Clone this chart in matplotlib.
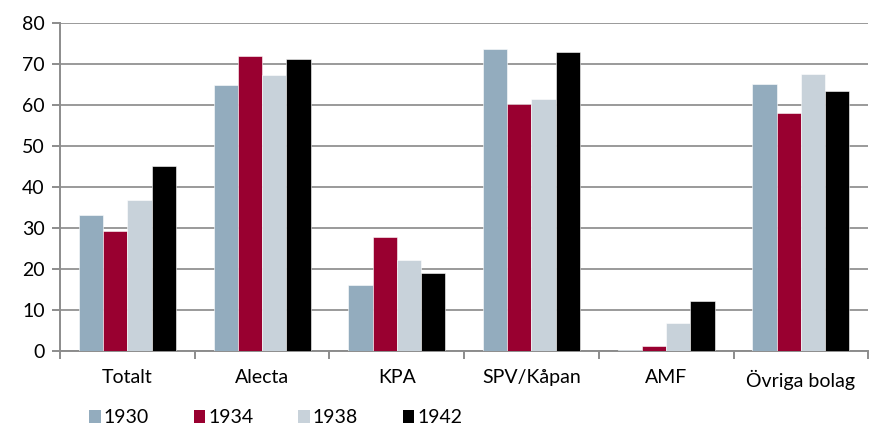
import matplotlib
matplotlib.use("Agg")
import matplotlib.pyplot as plt
import numpy as np
from matplotlib.patches import Patch

plt.rcParams['font.family'] = ['Lato', 'DejaVu Sans']

categories = ["Totalt", "Alecta", "KPA", "SPV/Kåpan", "AMF", "Övriga bolag"]
years = ["1930", "1934", "1938", "1942"]
v1930 = [33.3, 64.9, 16.1, 73.5, 0.4, 65.1]
v1934 = [29.3, 72.0, 27.8, 60.2, 1.3, 58.1]
v1938 = [36.9, 67.3, 22.2, 61.5, 7.0, 67.6]
v1942 = [45.2, 71.1, 19.1, 73.0, 12.3, 63.4]
yticks = [0, 10, 20, 30, 40, 50, 60, 70, 80]

series = [v1930, v1934, v1938, v1942]
colors = ["#93ACBE", "#990030", "#C8D2DA", "#000000"]

fig = plt.figure(figsize=(8.7, 4.3), dpi=100)
ax = fig.add_axes([0.069, 0.183, 0.929, 0.764])

x = np.arange(len(categories))
bw = 0.18
for i, (vals, col) in enumerate(zip(series, colors)):
    ax.bar(x + (i - 1.5) * bw, vals, width=bw, color=col,
           edgecolor="white", linewidth=0.4, zorder=3, label=years[i])

ax.set_xlim(-0.5, len(categories) - 0.5)
ax.set_ylim(0, 80)
ax.set_yticks(yticks)
ax.yaxis.grid(True, color="#9a9a9a", linewidth=1.4, zorder=0)
ax.set_axisbelow(True)

for s in ["top", "right"]:
    ax.spines[s].set_visible(False)
ax.spines["left"].set_color("#8c8c8c")
ax.spines["left"].set_linewidth(1.4)
ax.spines["bottom"].set_color("#8c8c8c")
ax.spines["bottom"].set_linewidth(1.4)

ax.set_xticks(x)
ax.set_xticklabels(categories, fontsize=14)
ax.tick_params(axis="x", length=0, pad=13)
ax.set_xticks(np.arange(len(categories) + 1) - 0.5, minor=True)
ax.tick_params(axis="x", which="minor", length=6, width=1.4, color="#8c8c8c")
ax.tick_params(axis="y", labelsize=14, length=6, width=1.4, color="#8c8c8c", pad=5)

handles = [Patch(facecolor=c, edgecolor="none") for c in colors]
fig.legend(handles, years, loc="center", bbox_to_anchor=(0.317, 0.028),
           ncol=4, frameon=False, fontsize=14, handlelength=0.6, handleheight=0.6,
           handletextpad=0.15, columnspacing=2.3)

fig.savefig("out.png", dpi=100)
